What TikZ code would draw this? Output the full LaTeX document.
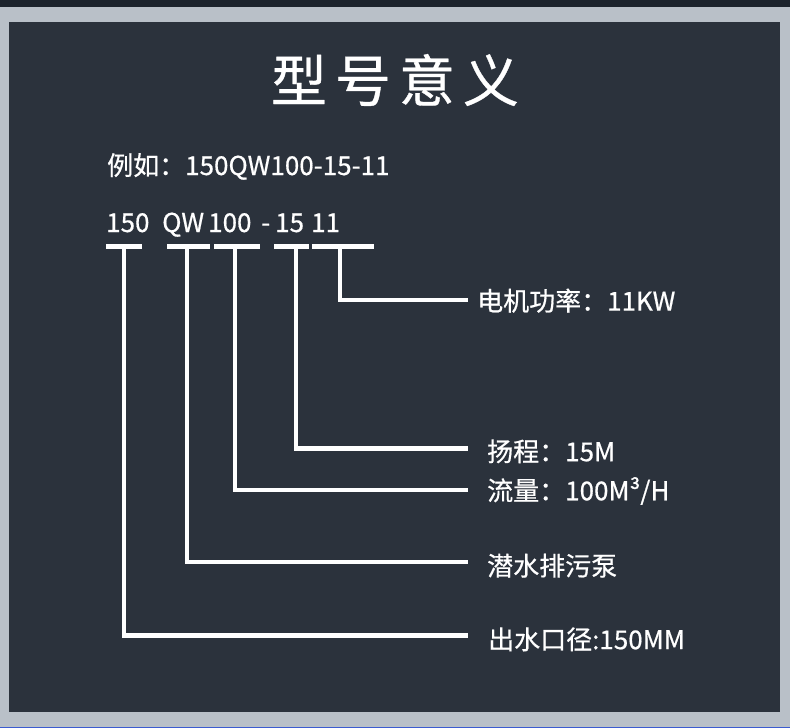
\documentclass[tikz,border=0pt]{standalone}
\usepackage{fontspec}
\setmainfont{Noto Sans CJK SC}[FakeBold=0.6]
\usetikzlibrary{positioning}
\definecolor{panelbg}{HTML}{2B323C}
\definecolor{framegray}{HTML}{B9C0C8}
\definecolor{topdark}{HTML}{1C232C}
\definecolor{edgeblue}{HTML}{3B5BD0}
\tikzset{
  bar/.style={white, line width=4.4pt},
  lead/.style={white, line width=4.4pt},
  code/.style={white, font=\fontsize{26}{30}\selectfont, inner sep=0pt, anchor=base west},
  meaning/.style={white, font=\fontsize{26}{30}\selectfont, inner sep=0pt, anchor=west},
}
\begin{document}
\begin{tikzpicture}[x=1pt,y=-1pt]
  \useasboundingbox (0,0) rectangle (790,728);
  % 背景
  \fill[framegray] (0,0) rectangle (790,728);
  \fill[topdark] (0,0) rectangle (790,7);
  \fill[edgeblue] (0,727) rectangle (790,728);
  \fill[panelbg] (9,22) rectangle (780,712);

  % タイトル
  \node[white, font=\fontsize{56}{60}\selectfont, inner sep=0pt] (title) at (395,80)
    {型\hspace{8pt}号\hspace{8pt}意\hspace{8pt}义};

  \node[code] (example) at (107,175) {例如：150QW100-15-11};

  % 型号の分解
  \node[code] (c150) at (106,232) {150};
  \node[code] (cQW)  at (162,232) {QW};
  \node[code] (c100) at (208,232) {100};
  \node[code] (cdash) at (261,232) {-};
  \node[code] (c15)  at (275,232) {15};
  \node[code] (c11)  at (311,232) {11};

  % 下線
  \draw[bar] (106,246.3) -- (142,246.3);
  \draw[bar] (167,246.3) -- (210,246.3);
  \draw[bar] (214,246.3) -- (260,246.3);
  \draw[bar] (274,246.3) -- (309,246.3);
  \draw[bar] (312,246.3) -- (374,246.3);

  \coordinate (t150) at (124,246.3);
  \coordinate (tQW)  at (186.7,246.3);
  \coordinate (t100) at (235,246.3);
  \coordinate (t15)  at (296,246.3);
  \coordinate (t11)  at (340,246.3);

  \coordinate (e11)  at (468,299.7);
  \coordinate (e15)  at (468,448.3);
  \coordinate (e100) at (468,490);
  \coordinate (eQW)  at (468,561.7);
  \coordinate (e150) at (468,635.3);

  % 引出線
  \draw[lead] (t11) |- (e11);
  \draw[lead] (t15) |- (e15);
  \draw[lead] (t100) |- (e100);
  \draw[lead] (tQW) |- (eQW);
  \draw[lead] (t150) |- (e150);

  % 説明
  \node[meaning, right=9pt of e11, yshift=-1pt] (m11) {电机功率：11KW};
  \node[meaning, right=19pt of e15, yshift=-3pt] (m15) {扬程：15M};
  \node[meaning, right=19pt of e100, yshift=-1pt] (m100) {流量：100M³/H};
  \node[meaning, right=19pt of eQW, yshift=-4pt] (mQW) {潜水排污泵};
  \node[meaning, right=20pt of e150, yshift=-4pt] (m150) {出水口径:150MM};
\end{tikzpicture}
\end{document}
